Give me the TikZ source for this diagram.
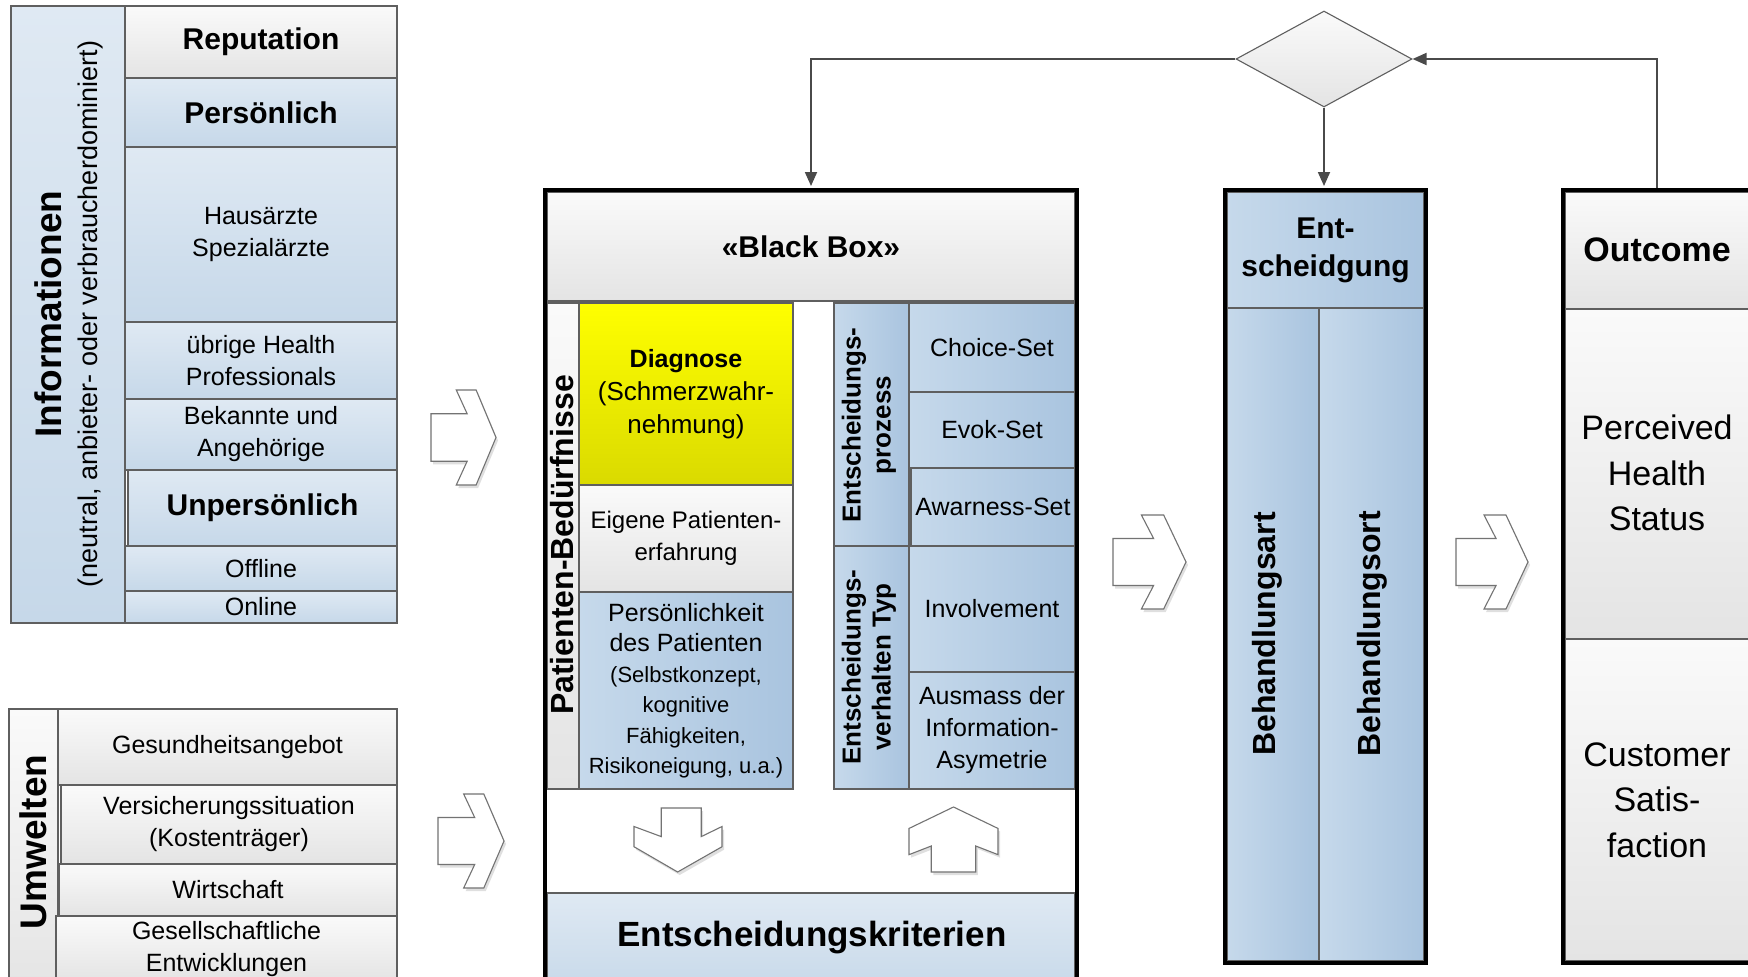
\documentclass[tikz,border=0pt]{standalone}
\usepackage{fontspec}
\setmainfont{Liberation Sans}
\usetikzlibrary{shapes.geometric,arrows.meta,shadows}

\definecolor{bdr}{HTML}{5F5F5F}
\definecolor{gA}{HTML}{FAFAFA}
\definecolor{gB}{HTML}{E4E4E4}
\definecolor{bA}{HTML}{C6D9EB}
\definecolor{bB}{HTML}{A9C4DF}
\definecolor{lA}{HTML}{DFE9F3}
\definecolor{lB}{HTML}{C6D8E9}
\definecolor{yA}{HTML}{FFFF00}
\definecolor{yB}{HTML}{DADA00}
\definecolor{connc}{HTML}{4A4A4A}

\newcommand\fzReg{\fontsize{25}{32}\selectfont}
\newcommand\fzBold{\fontsize{30}{36}\selectfont\bfseries}
\newcommand\fzSmall{\fontsize{22}{30.5}\selectfont}
\newcommand\fzBig{\fontsize{37}{44}\selectfont\bfseries}
\newcommand\fzRot{\fontsize{32}{38}\selectfont\bfseries}
\newcommand\fzEnt{\fontsize{26}{30}\selectfont\bfseries}
\newcommand\fzKrit{\fontsize{35}{42}\selectfont\bfseries}
\newcommand\fzOut{\fontsize{34}{45.5}\selectfont}

% box from (x1,y1) to (x2,y2), y downward
\newcommand\bx[7]{\node[#2, minimum width={(#5)-(#3)}, minimum height={(#6)-(#4)}] (#1) at ({((#3)+(#5))/2},{((#4)+(#6))/2}) {#7};}
% hollow right chevron: x y w h
\newcommand\chev[4]{\draw[hollow] ({#1},{#2+0.25*#4}) -- ({#1+0.556*#3},{#2+0.25*#4}) -- ({#1+0.389*#3},{#2}) -- ({#1+0.694*#3},{#2}) -- ({#1+#3},{#2+0.5*#4}) -- ({#1+0.694*#3},{#2+#4}) -- ({#1+0.389*#3},{#2+#4}) -- ({#1+0.556*#3},{#2+0.75*#4}) -- ({#1},{#2+0.75*#4}) -- cycle;}

\begin{document}
\begin{tikzpicture}[x=1pt,y=-1pt,
  cell/.style={draw=bdr, line width=1.1pt, inner sep=0pt, align=center, font=\fzReg},
  cgray/.style={cell, top color=gA, bottom color=gB},
  clight/.style={cell, top color=lA, bottom color=lB},
  cblue/.style={cell, left color=bA, right color=bB},
  cyel/.style={cell, top color=yA, bottom color=yB},
  frame/.style={draw=black, line width=4pt, inner sep=0pt, fill=none},
  rot/.style={rotate=90, align=center, inner sep=0pt},
  conn/.style={draw=connc, line width=1.8pt, -{Triangle[length=14pt,width=12pt]}},
  hollow/.style={draw=black!55, fill=white, line width=1.1pt, line join=miter,
     drop shadow={opacity=0.25, shadow xshift=2pt, shadow yshift=-3pt}}
]
\clip (0,0) rectangle (1748,977);
\fill[white] (0,0) rectangle (1748,977);

% ---------------- Informationen ----------------
\bx{infoL}{clight}{11}{6}{125}{623}{}
\node[rot, font=\fontsize{27}{36}\selectfont] (infoT) at (69,314)
  {{\fontsize{37}{36}\selectfont\bfseries Informationen}\\(neutral, anbieter- oder verbraucherdominiert)};
\bx{rep}{cgray, font=\fzBold}{125}{6}{397}{78}{Reputation}
\bx{pers}{clight, font=\fzBold}{125}{78}{397}{147}{Persönlich}
\bx{haus}{clight}{125}{147}{397}{322}{Hausärzte\\Spezialärzte}
\bx{uebr}{clight}{125}{322}{397}{399}{übrige Health\\Professionals}
\bx{bek}{clight}{125}{399}{397}{470}{Bekannte und\\Angehörige}
\bx{unp}{clight, font=\fzBold}{128}{470}{397}{546}{Unpersönlich}
\bx{off}{clight}{125}{546}{397}{591}{Offline}
\bx{onl}{clight}{125}{591}{397}{623}{Online}

% ---------------- Umwelten ----------------
\bx{umwL}{cgray}{9}{709}{58}{995}{}
\node[rot, font=\fzBig] (umwT) at (33,842) {Umwelten};
\bx{ges}{cgray}{58}{709}{397}{785}{Gesundheitsangebot}
\bx{vers}{cgray}{61}{785}{397}{864}{Versicherungssituation\\(Kostenträger)}
\bx{wirt}{cgray}{59}{864}{397}{916}{Wirtschaft}
\bx{gesell}{cgray}{56}{916}{397}{982}{Gesellschaftliche\\Entwicklungen}

% ---------------- chevrons ----------------
\chev{431}{390}{65}{95}
\chev{438}{794}{66}{94}
\chev{1113}{515}{73}{94}
\chev{1456}{515}{72}{94}

% ---------------- Black Box ----------------
\fill[white] (545,190) rectangle (1077,992);
\bx{bbh}{cgray, font=\fzBold}{547}{192}{1075}{301}{«Black Box»}
\bx{pbcol}{cgray}{547}{303}{579}{789}{}
\node[rot, font=\fzRot] (pbT) at (562,545) {Patienten-Bedürfnisse};
\bx{diag}{cyel, font=\fontsize{26}{33}\selectfont}{579}{303}{793}{485}{{\fontsize{25}{33}\selectfont\bfseries Diagnose}\\(Schmerzwahr-\\nehmung)}
\bx{eig}{cgray, font=\fontsize{24}{32}\selectfont}{579}{485}{793}{592}{Eigene Patienten-\\erfahrung}
\bx{persk}{cblue, font=\fzSmall}{579}{592}{793}{789}{{\fzReg Persönlichkeit}\\{\fzReg des Patienten}\\(Selbstkonzept,\\kognitive\\Fähigkeiten,\\Risikoneigung, u.a.)}

\bx{epcol}{cblue}{834}{303}{909}{546}{}
\node[rot, font=\fzEnt] (epT) at (869,425) {Entscheidungs-\\prozess};
\bx{choice}{cblue}{909}{303}{1075}{392}{Choice-Set}
\bx{evok}{cblue}{909}{392}{1075}{468}{Evok-Set}
\bx{aware}{cblue}{911}{468}{1075}{546}{Awarness-Set}
\bx{evcol}{cblue}{834}{546}{909}{789}{}
\node[rot, font=\fzEnt] (evT) at (869,667) {Entscheidungs-\\verhalten Typ};
\bx{invol}{cblue}{909}{546}{1075}{672}{Involvement}
\bx{ausm}{cblue}{909}{672}{1075}{789}{Ausmass der\\Information-\\Asymetrie}

\draw[hollow] ({634+0.31*88},808) -- ({634+0.764*88},808) -- ({634+0.764*88},{808+0.447*64})
  -- (722,{808+0.289*64}) -- (722,{808+0.605*64}) -- ({634+0.496*88},872)
  -- (634,{808+0.605*64}) -- (634,{808+0.289*64}) -- ({634+0.31*88},{808+0.447*64}) -- cycle;
\draw[hollow] ({909+0.25*89},872) -- ({909+0.75*89},872) -- ({909+0.75*89},{807+0.6*65})
  -- (998,{807+0.733*65}) -- (998,{807+0.33*65}) -- ({909+0.5*89},807)
  -- (909,{807+0.33*65}) -- (909,{807+0.733*65}) -- ({909+0.25*89},{807+0.6*65}) -- cycle;

\bx{krit}{clight}{547}{893}{1075}{995}{}
\node[font=\fzKrit, inner sep=0pt] (kritT) at (812,938) {Entscheidungskriterien};
\bx{bb}{frame}{545}{190}{1077}{992}{}

% ---------------- Entscheidung ----------------
\bx{enth}{cblue, font=\fontsize{30}{38}\selectfont\bfseries}{1227}{192}{1424}{308}{Ent-\\scheidgung}
\bx{bart}{cblue}{1227}{308}{1319}{961}{}
\bx{bort}{cblue}{1319}{308}{1424}{961}{}
\node[rot, font=\fzRot] (bartT) at (1267,634) {Behandlungsart};
\node[rot, font=\fzRot] (bortT) at (1372,634) {Behandlungsort};
\bx{ent}{frame}{1225}{190}{1426}{963}{}

% ---------------- Outcome ----------------
\bx{outh}{cgray}{1565}{192}{1749}{309}{}
\bx{outm}{cgray}{1565}{309}{1749}{639}{}
\bx{outb}{cgray}{1565}{639}{1749}{961}{}
\node[font=\fontsize{34}{40}\selectfont\bfseries, inner sep=0pt] (outT) at (1657,250) {Outcome};
\node[font=\fzOut, align=center, inner sep=0pt] (phs) at (1657,473) {Perceived\\Health\\Status};
\node[font=\fzOut, align=center, inner sep=0pt] (csat) at (1657,800) {Customer\\Satis-\\faction};
\bx{out}{frame}{1563}{190}{1751}{963}{}

% ---------------- decision diamond & connectors ----------------
\node[diamond, draw=bdr, line width=1.1pt, top color=gA, bottom color=gB,
      minimum width=176pt, minimum height=96pt, inner sep=0pt] (dia) at (1324,59) {};
\draw[conn, shorten >=2pt] (dia.west) -| (bb.north);
\draw[conn, shorten >=2pt] (dia.south) -- (dia.south |- ent.north);
\draw[conn] (out.north) |- (dia.east);
\end{tikzpicture}
\end{document}
